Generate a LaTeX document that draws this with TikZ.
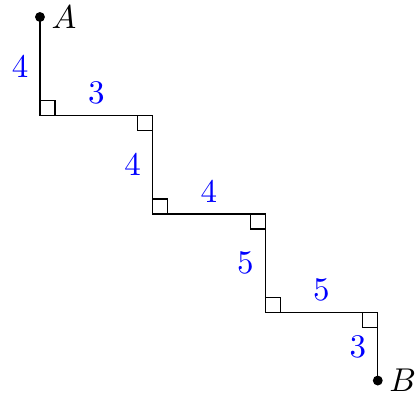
\documentclass[tikz,border=0pt]{standalone}

\begin{document}
\begin{tikzpicture}[x=1.2cm,y=1.05cm,
len/.style={text=blue},
rmark/.style={draw,line width=0.4pt}]
\useasboundingbox (-0.426cm,0.181cm) rectangle (4.018cm,-3.997cm);
\coordinate (A) at (0,0);
\coordinate (c1) at (0,-1);
\coordinate (c2) at (1,-1);
\coordinate (c3) at (1,-2);
\coordinate (c4) at (2,-2);
\coordinate (c5) at (2,-3);
\coordinate (c6) at (3,-3);
\coordinate (B) at (3,-3.69);
\draw (A)--node[len,left]{4}(c1)--node[len,above]{3}(c2)
 --node[len,left]{4}(c3)--node[len,above]{4}(c4)
 --node[len,left]{5}(c5)--node[len,above]{5}(c6)--node[len,left]{3}(B);
% right angles
\draw[rmark] (c1) rectangle ++(0.16cm,0.16cm);
\draw[rmark] (c2) rectangle ++(-0.16cm,-0.16cm);
\draw[rmark] (c3) rectangle ++(0.16cm,0.16cm);
\draw[rmark] (c4) rectangle ++(-0.16cm,-0.16cm);
\draw[rmark] (c5) rectangle ++(0.16cm,0.16cm);
\draw[rmark] (c6) rectangle ++(-0.16cm,-0.16cm);
\fill (A) circle (1.5pt) node[right]{$A$};
\fill (B) circle (1.5pt) node[right]{$B$};
\end{tikzpicture}
\end{document}
